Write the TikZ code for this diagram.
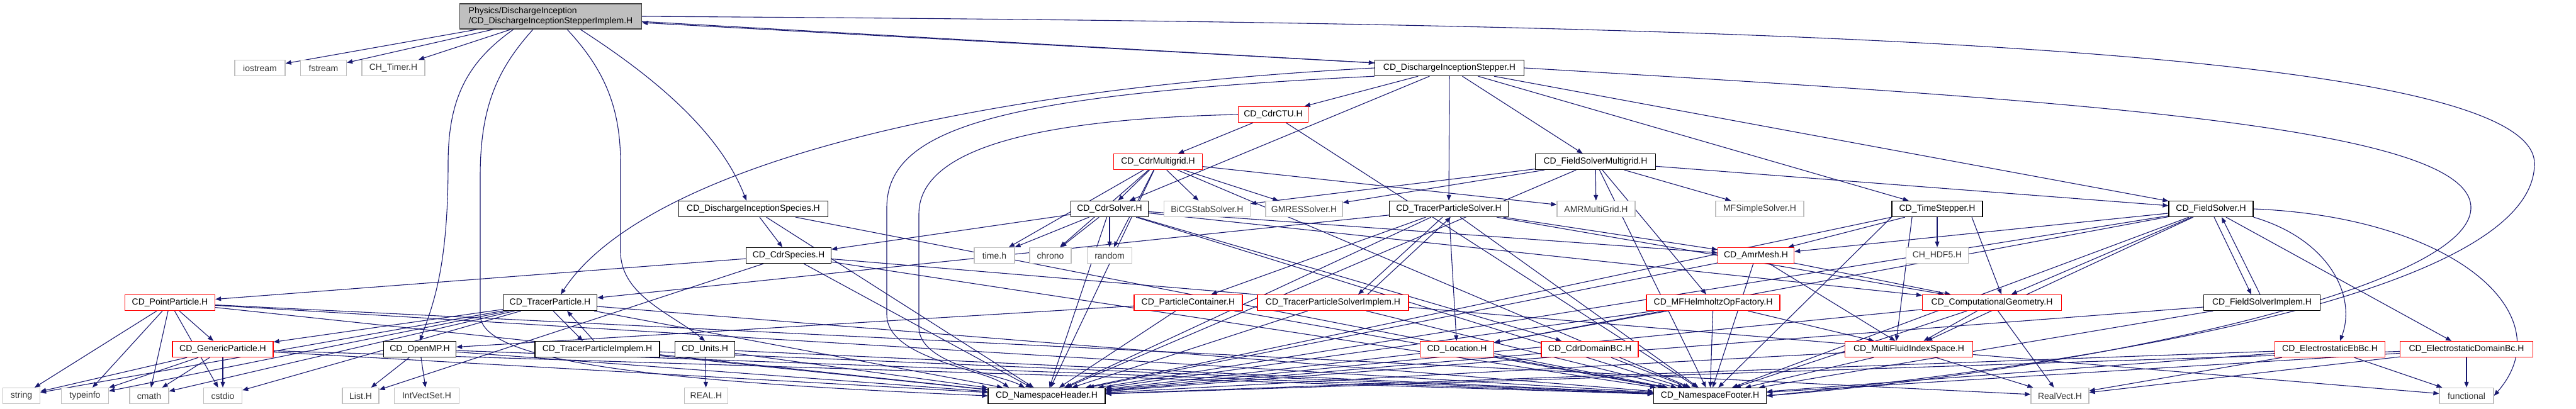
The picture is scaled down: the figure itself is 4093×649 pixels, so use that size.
\documentclass[tikz,border=0pt]{standalone}
\usepackage{fontspec}
\setmainfont{Liberation Sans}
\usetikzlibrary{arrows.meta,backgrounds}
\definecolor{edgeblue}{HTML}{191970}
\definecolor{sysgray}{HTML}{BFBFBF}
\tikzset{
  file/.style={rectangle, draw, fill=white, minimum height=25pt, inner sep=0pt,
    line width=1.3pt, font=\fontsize{14}{16}\selectfont},
  docfile/.style={file, draw=black},
  redfile/.style={file, draw=red},
  sysfile/.style={file, draw=sysgray, text=black!80},
  rootfile/.style={file, fill=sysgray, draw=black!75, align=left, minimum height=40pt},
  dep/.style={draw=edgeblue, line width=1.1pt, -{Triangle[length=9pt,width=7pt]}},
}
\begin{document}
\begin{tikzpicture}[x=1pt,y=-1pt]
	\useasboundingbox (0,0) rectangle (4093,649);
	% top rows
	\node[rootfile, minimum width=289] (rt) at (875,26) {Physics/DischargeInception\\/CD\_DischargeInceptionStepperImplem.H};
	\node[sysfile, minimum width=80] (ios) at (413,108) {iostream};
	\node[sysfile, minimum width=73] (fst) at (514,108) {fstream};
	\node[sysfile, minimum width=100] (tmr) at (625,108) {CH\_Timer.H};
	\node[docfile, minimum width=237] (stp) at (2303,108) {CD\_DischargeInceptionStepper.H};
	\node[redfile, minimum width=111] (ctu) at (2023,182) {CD\_CdrCTU.H};
	\node[redfile, minimum width=141] (cmg) at (1840,257) {CD\_CdrMultigrid.H};
	\node[docfile, minimum width=191] (fsm) at (2535,257) {CD\_FieldSolverMultigrid.H};
	% solvers
	\node[docfile, minimum width=237] (dsp) at (1197,332) {CD\_DischargeInceptionSpecies.H};
	\node[docfile, minimum width=123] (csv) at (1763,332) {CD\_CdrSolver.H};
	\node[sysfile, minimum width=137] (bcg) at (1918,332) {BiCGStabSolver.H};
	\node[sysfile, minimum width=122] (gmr) at (2072,332) {GMRESSolver.H};
	\node[docfile, minimum width=189] (tps) at (2302,332) {CD\_TracerParticleSolver.H};
	\node[sysfile, minimum width=124] (amg) at (2536,332) {AMRMultiGrid.H};
	\node[sysfile, minimum width=140] (mfs) at (2796,332) {MFSimpleSolver.H};
	\node[docfile, minimum width=144] (tst) at (3078,332) {CD\_TimeStepper.H};
	\node[docfile, minimum width=134] (fsv) at (3513,332) {CD\_FieldSolver.H};
	\node[docfile, minimum width=135] (csp) at (1253,406) {CD\_CdrSpecies.H};
	\node[sysfile, minimum width=64] (tim) at (1580,406) {time.h};
	\node[sysfile, minimum width=66] (chr) at (1669,406) {chrono};
	\node[sysfile, minimum width=71] (rnd) at (1763,406) {random};
	\node[redfile, minimum width=121] (amr) at (2790,406) {CD\_AmrMesh.H};
	\node[sysfile, minimum width=99] (hdf) at (3078,406) {CH\_HDF5.H};
	% particles and helpers
	\node[redfile, minimum width=143] (ppt) at (270,481) {CD\_PointParticle.H};
	\node[docfile, minimum width=149] (tpt) at (874,481) {CD\_TracerParticle.H};
	\node[redfile, minimum width=172] (pct) at (1888,481) {CD\_ParticleContainer.H};
	\node[redfile, minimum width=240] (tpi) at (2118,481) {CD\_TracerParticleSolverImplem.H};
	\node[redfile, minimum width=212] (mfh) at (2722,481) {CD\_MFHelmholtzOpFactory.H};
	\node[redfile, minimum width=221] (cge) at (3165,481) {CD\_ComputationalGeometry.H};
	\node[docfile, minimum width=185] (fsi) at (3594,481) {CD\_FieldSolverImplem.H};
	\node[redfile, minimum width=160] (gpt) at (354,555) {CD\_GenericParticle.H};
	\node[docfile, minimum width=115] (omp) at (667,555) {CD\_OpenMP.H};
	\node[docfile, minimum width=198] (tpm) at (949,555) {CD\_TracerParticleImplem.H};
	\node[docfile, minimum width=95] (unt) at (1120,555) {CD\_Units.H};
	\node[redfile, minimum width=117] (loc) at (2315,555) {CD\_Location.H};
	\node[redfile, minimum width=154] (cdb) at (2526,555) {CD\_CdrDomainBC.H};
	\node[redfile, minimum width=203] (mfi) at (3033,555) {CD\_MultiFluidIndexSpace.H};
	\node[redfile, minimum width=175] (eeb) at (3702,555) {CD\_ElectrostaticEbBc.H};
	\node[redfile, minimum width=211] (edb) at (3919,555) {CD\_ElectrostaticDomainBc.H};
	% bottom row
	\node[sysfile, minimum width=59] (str) at (34,629) {string};
	\node[sysfile, minimum width=75] (tyi) at (135,629) {typeinfo};
	\node[sysfile, minimum width=62] (cmt) at (237,629) {cmath};
	\node[sysfile, minimum width=61] (csd) at (354,629) {cstdio};
	\node[sysfile, minimum width=58] (lst) at (573,629) {List.H};
	\node[sysfile, minimum width=103] (ivs) at (678,629) {IntVectSet.H};
	\node[sysfile, minimum width=69] (rea) at (1122,629) {REAL.H};
	\node[docfile, minimum width=186] (nsh) at (1663,629) {CD\_NamespaceHeader.H};
	\node[docfile, minimum width=179] (nsf) at (2717,629) {CD\_NamespaceFooter.H};
	\node[sysfile, minimum width=92] (rvt) at (3273,629) {RealVect.H};
	\node[sysfile, minimum width=86] (fnc) at (3919,629) {functional};

	\begin{scope}[on background layer]
	% plain includes
	\foreach \a/\b in {rt/ios, rt/fst, rt/tmr, stp/ctu, stp/csv, stp/tps, stp/fsm, stp/tst, stp/fsv,
		dsp/csp, ctu/cmg, cmg/csv, cmg/bcg, cmg/gmr, cmg/amg, cmg/tim, cmg/chr, cmg/rnd,
		fsm/bcg, fsm/gmr, fsm/amg, fsm/mfs, fsm/fsv, fsm/mfh,
		csv/csp, csv/tim, csv/chr, csv/rnd, csv/amr, csv/cge, csv/cdb,
		csp/ppt, csp/lst, csp/fnc, tps/tpt, tps/pct, tps/amr, tps/cge, tps/loc,
		tpt/gpt, tpt/str, tpt/tyi, tpt/cmt, tpt/csd,
		ppt/gpt, ppt/str, ppt/tyi, ppt/cmt, ppt/csd, ppt/rvt, gpt/str, gpt/tyi, gpt/cmt, gpt/csd,
		omp/lst, omp/ivs, unt/rea, pct/omp, tst/hdf, tst/amr,
		fsv/amr, fsv/cge, fsv/loc, fsv/mfi, fsv/edb,
		amr/mfi, amr/cge, cge/mfi, cge/rvt, mfi/rvt, mfh/mfi, mfh/loc,
		eeb/fnc, eeb/rvt, edb/fnc, edb/rvt}
		\draw[dep] (\a) -- (\b);
	% namespace header and footer
	\foreach \a in {dsp, cmg, fsm, csv, tps, fsv, csp, amr, ppt, tpt, pct, tpi, mfh, cge,
		fsi, gpt, omp, tpm, unt, loc, cdb, mfi, eeb, edb}
		{\draw[dep] (\a) -- (nsh); \draw[dep] (\a) -- (nsf);}
	\draw[dep] (ctu) -- (nsf);
	% time stepper edges go round CH_HDF5.H
	\draw[dep] (tst.south west) -- (nsh);
	\draw[dep] (tst.south west) -- (nsf);
	\draw[dep] ([xshift=-40pt]tst.south) -- ([xshift=-20pt]mfi.north);
	\draw[dep] ([xshift=55pt]tst.south) -- ([xshift=15pt]cge.north);
	% cyclic pairs
	\draw[dep] (rt) -- ([yshift=8pt]stp.west);
	\draw[dep] ([yshift=8pt]stp.west) -- ([yshift=-10pt]rt.east);
	\draw[dep] ([xshift=-10pt]tps.south) -- ([xshift=40pt]tpi.north);
	\draw[dep] ([xshift=55pt]tpi.north) -- ([xshift=3pt]tps.south);
	\draw[dep] ([xshift=5pt]tpt.south) -- ([xshift=-23pt]tpm.north);
	\draw[dep] ([xshift=-5pt]tpm.north) -- ([xshift=27pt]tpt.south);
	\draw[dep] ([xshift=5pt]fsv.south) -- ([xshift=-17pt]fsi.north);
	\draw[dep] ([xshift=-3pt]fsi.north) -- ([xshift=17pt]fsv.south);
	% routed edges
	\draw[dep] ([xshift=-59pt]rt.south) .. controls (740,100) and (712,160) .. (712,260) .. controls (712,420) and (690,480) .. (omp.north);
	\draw[dep] ([xshift=-28pt]rt.south) .. controls (790,110) and (763,170) .. (763,280) -- (763,500) .. controls (763,570) and (1000,605) .. (nsh.west);
	\draw[dep] ([xshift=26pt]rt.south) .. controls (960,110) and (986,170) .. (986,260) -- (986,400) .. controls (986,470) and (1070,500) .. (unt.north);
	\draw[dep] ([xshift=47pt]rt.south) .. controls (1020,110) and (1140,200) .. ([xshift=-11pt]dsp.north);
	\draw[dep] (rt.east) .. controls (2600,36) and (4027,60) .. (4027,260) .. controls (4027,470) and (3300,580) .. (nsf.east);
	\draw[dep] (stp.east) .. controls (3300,160) and (3926,200) .. (3926,330) .. controls (3926,460) and (3300,590) .. (nsf.east);
	\draw[dep] (stp.west) .. controls (1400,150) and (1000,300) .. ([xshift=17pt]tpt.north);
	\draw[dep] (stp.south west) .. controls (1600,150) and (1409,200) .. (1409,330) -- (1409,500) .. controls (1409,570) and (1560,585) .. ([xshift=-60pt]nsh.north);
	\draw[dep] (ctu.west) .. controls (1600,190) and (1460,250) .. (1460,340) -- (1460,520) .. controls (1460,580) and (1590,595) .. ([xshift=-35pt]nsh.north);
	\draw[dep] (fsv.south east) .. controls (3700,380) and (3745,470) .. ([xshift=16pt]eeb.north);
	\draw[dep] (fsv.east) .. controls (3900,345) and (4075,500) .. (fnc.east);
	\end{scope}
\end{tikzpicture}
\end{document}
